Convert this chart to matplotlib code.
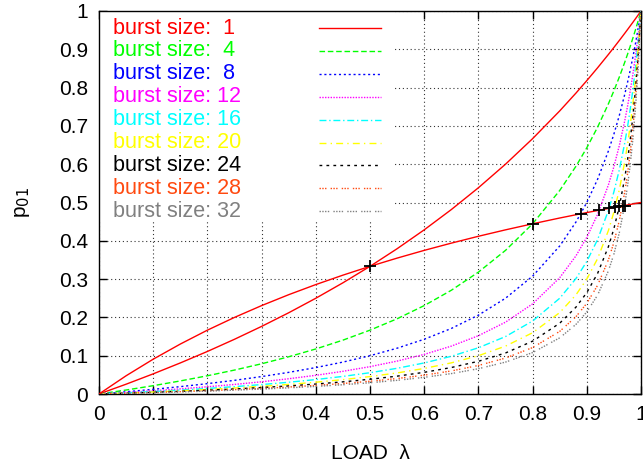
import matplotlib
matplotlib.use('Agg')
import matplotlib.pyplot as plt
from matplotlib.patches import Rectangle

# load values where the curves were read
load = [0, 0.05, 0.1, 0.15, 0.2, 0.25, 0.3, 0.35, 0.4, 0.45, 0.5, 0.55, 0.6, 0.65, 0.7, 0.75,
        0.8, 0.85, 0.88, 0.9, 0.92, 0.94, 0.95, 0.96, 0.97, 0.975, 0.98, 0.985, 0.99, 0.995, 1.0]

p01_b1 = [0, 0.0256, 0.0526, 0.0811, 0.1111, 0.1429, 0.1765, 0.2121, 0.25, 0.2903, 0.3333, 0.3793,
          0.4286, 0.4815, 0.5385, 0.6, 0.6667, 0.7391, 0.7857, 0.8182, 0.8519, 0.8868, 0.9048,
          0.9231, 0.9417, 0.9512, 0.9608, 0.9704, 0.9802, 0.99, 1.0]
p01_b4 = [0, 0.0104, 0.0217, 0.0341, 0.0476, 0.0625, 0.0789, 0.0972, 0.1176, 0.1406, 0.1667, 0.1964,
          0.2308, 0.2708, 0.3182, 0.375, 0.4444, 0.5313, 0.5946, 0.6429, 0.6970, 0.7581, 0.7917,
          0.8276, 0.8661, 0.8864, 0.9074, 0.9292, 0.9519, 0.9755, 1.0]
p01_b8 = [0, 0.0058, 0.0122, 0.0192, 0.0270, 0.0357, 0.0455, 0.0565, 0.0690, 0.0833, 0.1, 0.1196,
          0.1429, 0.1711, 0.2059, 0.25, 0.3077, 0.3864, 0.4490, 0.5, 0.5610, 0.6351, 0.6786,
          0.7273, 0.7823, 0.8125, 0.8448, 0.8795, 0.9167, 0.9567, 1.0]
p01_b12 = [0, 0.0040, 0.0085, 0.0134, 0.0189, 0.025, 0.0319, 0.0398, 0.0488, 0.0592, 0.0714, 0.0859,
           0.1034, 0.125, 0.1522, 0.1875, 0.2353, 0.3036, 0.3607, 0.4091, 0.4694, 0.5465, 0.5938,
           0.6486, 0.7132, 0.75, 0.7903, 0.8347, 0.8839, 0.9387, 1.0]
p01_b16 = [0, 0.0031, 0.0065, 0.0103, 0.0145, 0.0192, 0.0246, 0.0307, 0.0377, 0.0459, 0.0556, 0.0671,
           0.0811, 0.0985, 0.1207, 0.15, 0.1905, 0.25, 0.3014, 0.3462, 0.4035, 0.4796, 0.5278,
           0.5854, 0.6554, 0.6964, 0.7424, 0.7944, 0.8534, 0.9213, 1.0]
p01_b20 = [0, 0.0025, 0.0053, 0.0083, 0.0118, 0.0156, 0.02, 0.025, 0.0308, 0.0375, 0.0455, 0.055,
           0.0667, 0.0813, 0.1, 0.125, 0.16, 0.2125, 0.2588, 0.3, 0.3538, 0.4273, 0.475,
           0.5333, 0.6063, 0.65, 0.7, 0.7577, 0.825, 0.9045, 1.0]
p01_b24 = [0, 0.0021, 0.0044, 0.0070, 0.0099, 0.0132, 0.0169, 0.0211, 0.0260, 0.0317, 0.0385, 0.0466,
           0.0566, 0.0691, 0.0854, 0.1071, 0.1379, 0.1848, 0.2268, 0.2647, 0.3151, 0.3852, 0.4318,
           0.4898, 0.5640, 0.6094, 0.6622, 0.7243, 0.7984, 0.8884, 1.0]
p01_b28 = [0, 0.0018, 0.0038, 0.0060, 0.0085, 0.0114, 0.0146, 0.0182, 0.0225, 0.0274, 0.0333, 0.0404,
           0.0492, 0.0602, 0.0745, 0.0938, 0.1212, 0.1635, 0.2018, 0.2368, 0.2840, 0.3507, 0.3958,
           0.4528, 0.5272, 0.5735, 0.6282, 0.6937, 0.7734, 0.8728, 1.0]
p01_b32 = [0, 0.0016, 0.0034, 0.0053, 0.0075, 0.01, 0.0128, 0.0161, 0.0198, 0.0242, 0.0294, 0.0357,
           0.0435, 0.0533, 0.0660, 0.0833, 0.1081, 0.1466, 0.1818, 0.2143, 0.2584, 0.3219, 0.3654,
           0.4211, 0.4949, 0.5417, 0.5976, 0.6655, 0.75, 0.8578, 1.0]

burst_sizes = [1, 4, 8, 12, 16, 20, 24, 28, 32]
series = [p01_b1, p01_b4, p01_b8, p01_b12, p01_b16, p01_b20, p01_b24, p01_b28, p01_b32]

# curve through the operating points
op_load = [0, 0.05, 0.1, 0.15, 0.2, 0.25, 0.3, 0.35, 0.4, 0.45, 0.5, 0.55, 0.6, 0.65, 0.7,
           0.75, 0.8, 0.85, 0.9, 0.95, 1.0]
op_p01 = [0, 0.0476, 0.0909, 0.1304, 0.1667, 0.2, 0.2308, 0.2593, 0.2857, 0.3103, 0.3333, 0.3548,
          0.375, 0.3939, 0.4118, 0.4286, 0.4444, 0.4595, 0.4737, 0.4872, 0.5]

cross_load = [0.5, 0.8, 0.889, 0.923, 0.941, 0.952, 0.96, 0.966, 0.970]
cross_p01 = [0.333, 0.444, 0.471, 0.48, 0.485, 0.488, 0.49, 0.491, 0.492]

colors = ['#ff0000', '#00ff00', '#0000ff', '#ff00ff', '#00ffff', '#ffff00', '#000000', '#ff4a10', '#808080']
styles = ['-', (0, (4, 2)), (0, (1.5, 2)), (0, (1, 1)), (0, (5, 2, 1, 2)),
          (0, (5, 3, 1, 3)), (0, (2, 3)), (0, (1, 1, 1, 1, 1, 3)), (0, (1, 1, 1, 1, 1, 1, 1, 3))]

plt.rcParams['font.family'] = ['Liberation Sans', 'DejaVu Sans']

W, H = 643, 471
fig = plt.figure(figsize=(W / 100, H / 100), dpi=100)
ax = fig.add_axes([99 / W, 1 - 394 / H, 542 / W, 383 / H])

for ys, c, ls in zip(series, colors, styles):
    ax.plot(load, ys, color=c, linestyle=ls, linewidth=1, zorder=3)

ax.plot(op_load, op_p01, color='#ff0000', linewidth=1, zorder=3)
ax.plot(cross_load, cross_p01, linestyle='none', marker='+', markersize=9,
        markeredgewidth=1.3, color='black', zorder=4)

ax.set_xlim(0, 1)
ax.set_ylim(0, 1)
ticks = [i / 10 for i in range(11)]
labels = ['0'] + ['%.1f' % t for t in ticks[1:-1]] + ['1']
ax.set_xticks(ticks)
ax.set_xticklabels(labels)
ax.set_yticks(ticks)
ax.set_yticklabels(labels)
ax.tick_params(direction='in', length=6, width=1, top=True, right=True,
               labelsize=15, pad=8)
ax.set_axisbelow(True)
ax.grid(True, color='black', linestyle=(0, (1, 2.5)), linewidth=0.8, alpha=0.8)
for s in ax.spines.values():
    s.set_linewidth(1)

ax.set_xlabel('LOAD  λ', fontsize=15, labelpad=14)
ax.set_ylabel('p$_{01}$', fontsize=15, labelpad=19)

# gnuplot-style key with opaque background
ax.add_patch(Rectangle((0.002, 0.452), 0.54, 0.545, transform=ax.transAxes,
                       facecolor='white', edgecolor='none', zorder=1))
for i, (b, c, ls) in enumerate(zip(burst_sizes, colors, styles)):
    y = 1 - (28 + i * 22.9) / H
    fig.text(113 / W, y, 'burst size: %s' % (str(b) if b >= 10 else ' ' + str(b)),
             color=c, fontsize=15.5, va='center', ha='left')
    fig.add_artist(plt.Line2D([319 / W, 381 / W], [y, y], color=c, linestyle=ls,
                              linewidth=1, transform=fig.transFigure))

fig.savefig('out.png', dpi=100)
